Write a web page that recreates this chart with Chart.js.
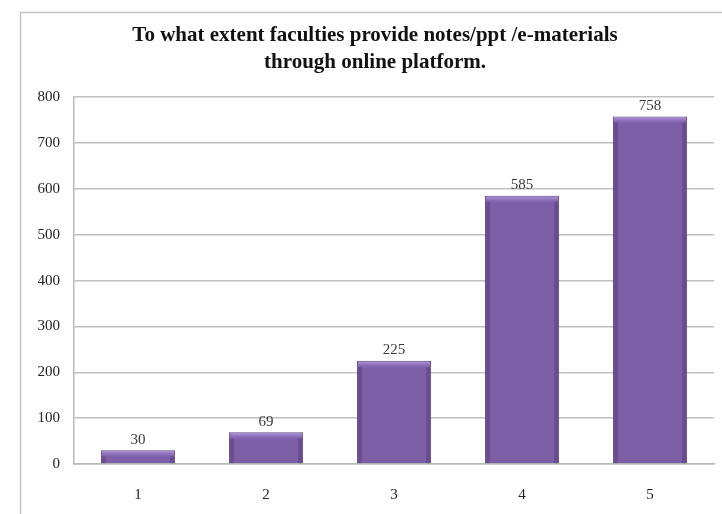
<!DOCTYPE html>
<html>
<head>
<meta charset="utf-8">
<script src="https://cdn.jsdelivr.net/npm/chart.js@4"></script>
<style>
  html, body { margin: 0; padding: 0; background: #fff; }
  #wrap { width: 722px; height: 514px; }
</style>
</head>
<body>
<div id="wrap"><canvas id="extentChart"></canvas></div>
<script>
// data
const categories = ["1", "2", "3", "4", "5"];
const counts = [30, 69, 225, 585, 758];
const titleLines = ["To what extent faculties provide notes/ppt /e-materials", "through online platform."];

const serif = "'Liberation Serif', 'Times New Roman', serif";

// grey frame round the chart
const framePlugin = {
    id: "frame",
    beforeDraw(chart) {
        const c = chart.ctx;
        c.save();
        c.strokeStyle = "#c4c4c4";
        c.lineWidth = 1.5;
        c.beginPath();
        c.moveTo(20.5, chart.height);
        c.lineTo(20.5, 12.5);
        c.lineTo(chart.width, 12.5);
        c.stroke();
        c.restore();
    }
};

// bevel highlight + value labels
const barLabels = {
    id: "barLabels",
    afterDatasetsDraw(chart) {
        const c = chart.ctx;
        const meta = chart.getDatasetMeta(0);
        c.save();
        meta.data.forEach(function (bar, i) {
            const left = bar.x - bar.width / 2;
            const h = bar.base - bar.y;
            // light top edge
            const top = c.createLinearGradient(0, bar.y, 0, bar.y + 6);
            top.addColorStop(0, "#b9a0e0");
            top.addColorStop(1, "rgba(150,120,200,0.2)");
            c.fillStyle = top;
            c.fillRect(left + 1, bar.y + 1, bar.width - 2, Math.min(6, h - 2));
            // darker side edges
            c.fillStyle = "rgba(60,35,95,0.3)";
            c.fillRect(left + 1, bar.y + 6, 4, Math.max(0, h - 6));
            c.fillRect(left + bar.width - 5, bar.y + 6, 4, Math.max(0, h - 6));
            // value
            c.fillStyle = "#3a3a3a";
            c.font = "15px " + serif;
            c.textAlign = "center";
            c.textBaseline = "bottom";
            c.fillText(counts[i], bar.x, bar.y - 3);
        });
        c.restore();
    }
};

document.addEventListener("DOMContentLoaded", function () {
    const ctx = document.getElementById("extentChart").getContext("2d");

    new Chart(ctx, {
        type: "bar",
        data: {
            labels: categories,
            datasets: [{
                data: counts,
                backgroundColor: "#7d5fa8",
                borderColor: "#5d4384",
                borderWidth: 1,
                categoryPercentage: 1,
                barPercentage: 0.58
            }]
        },
        options: {
            responsive: true,
            maintainAspectRatio: false,
            animation: false,
            layout: { padding: { left: 36, right: 8, top: 0 } },
            plugins: {
                legend: { display: false },
                tooltip: { enabled: false },
                title: {
                    display: true,
                    text: titleLines,
                    color: "#111",
                    font: { family: serif, size: 21, weight: "bold", lineHeight: 1.29 },
                    padding: { top: 22, bottom: 21 }
                }
            },
            scales: {
                x: {
                    grid: { display: false, drawTicks: false },
                    border: { color: "#b8b8b8", width: 1.5 },
                    ticks: {
                        color: "#222",
                        padding: 22,
                        font: { family: serif, size: 15 }
                    },
                    afterFit: function (scale) { scale.height = 50; }
                },
                y: {
                    min: 0,
                    max: 800,
                    ticks: {
                        stepSize: 100,
                        color: "#222",
                        padding: 14,
                        font: { family: serif, size: 15 }
                    },
                    grid: { color: "#c0c0c0", lineWidth: 1.5, drawTicks: false },
                    border: { color: "#b8b8b8", width: 1.5 },
                    afterFit: function (scale) { scale.width = 38; }
                }
            }
        },
        plugins: [framePlugin, barLabels]
    });
});
</script>
</body>
</html>
